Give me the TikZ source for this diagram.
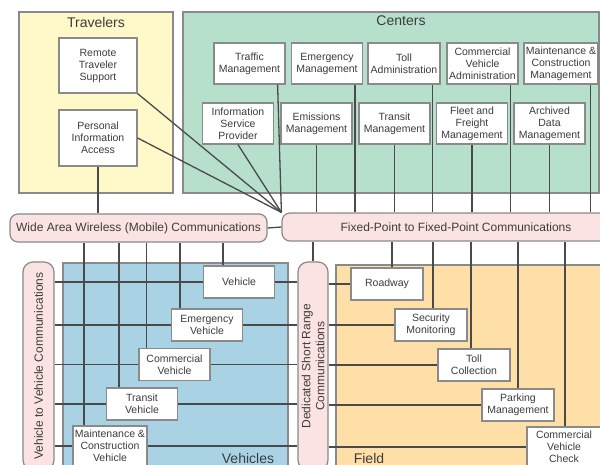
\documentclass[tikz,border=0pt]{standalone}
\usepackage{fontspec}
\setmainfont{Liberation Sans}
\definecolor{travel}{HTML}{FFF8C8}
\definecolor{center}{HTML}{B6E0CC}
\definecolor{vehic}{HTML}{A9D3E5}
\definecolor{fieldc}{HTML}{FEDFA8}
\definecolor{barpink}{HTML}{FCE3E3}
\definecolor{frame}{HTML}{8A8A8A}
\definecolor{wire}{HTML}{4A4A4A}
\definecolor{ink}{HTML}{3C3C3C}
\newcommand\cellfont{\fontsize{10.5}{12}\selectfont}
\newcommand\barfont{\fontsize{12}{14}\selectfont}
\newcommand\regionfont{\fontsize{14}{16}\selectfont}
\begin{document}
\begin{tikzpicture}[x=1pt,y=-1pt,
    region/.style={draw=frame,line width=1.2pt},
    heading/.style={font=\regionfont,text=ink},
    box/.style={draw=frame,fill=white,line width=1.2pt,inner sep=1pt,align=center,
      minimum width=71pt,minimum height=41pt,font=\cellfont,text=ink},
    unit/.style={box,minimum height=32pt},
    bar/.style={draw=frame,fill=barpink,line width=1.2pt,rounded corners=8pt,
      inner sep=1pt,font=\barfont,text=ink,align=center,minimum height=28pt},
    vbar/.style={bar,rotate=90,rounded corners=10pt,minimum width=208pt,minimum height=31pt},
    link/.style={draw=wire,line width=1.3pt}]
\clip (0,0) rectangle (600,465);
\fill[white] (0,0) rectangle (600,465);

\draw[region,fill=travel] (19,12) rectangle (173,193);
\draw[region,fill=center] (183,12) rectangle (599,193);
\draw[region,fill=vehic] (63,263) rectangle (288,475);
\draw[region,fill=fieldc] (336,265) rectangle (610,475);
\node[heading] (travtitle) at (96,22) {Travelers};
\node[heading] (centtitle) at (401,21) {Centers};
\node[heading] (vehtitle) at (248,458) {Vehicles};
\node[heading] (fieldtitle) at (369,458) {Field};

\node[box,minimum width=78pt,minimum height=55pt] (remote) at (98,65.5) {Remote\\Traveler\\Support};
\node[box,minimum width=78pt,minimum height=56pt] (personal) at (98,138) {Personal\\Information\\Access};

\node[box] (traffic) at (249.5,63.5) {Traffic\\Management};
\node[box] (emergency) at (327,63.5) {Emergency\\Management};
\node[box,minimum width=72pt] (tolladmin) at (404,63.5) {Toll\\Administration};
\node[box] (cvadmin) at (482.5,63.5) {Commercial\\Vehicle\\Administration};
\node[box,minimum width=74pt] (mcmgmt) at (561,63.5) {Maintenance \&\\Construction\\Management};
\node[box] (isp) at (238,123.5) {Information\\Service\\Provider};
\node[box] (emissions) at (316.5,123.5) {Emissions\\Management};
\node[box] (transitmgmt) at (394.5,123.5) {Transit\\Management};
\node[box] (fleet) at (472,123.5) {Fleet and\\Freight\\Management};
\node[box] (archived) at (549.5,123.5) {Archived\\Data\\Management};

\node[bar,minimum width=257pt] (wide) at (138.5,228) {Wide Area Wireless (Mobile) Communications};
\node[bar,minimum width=348pt] (fixed) at (456,227) {Fixed-Point to Fixed-Point Communications};
\node[vbar] (v2v) at (38.5,366) {Vehicle to Vehicle Communications};
\node[vbar,minimum height=30pt] (dsrc) at (313,366) {Dedicated Short Range\\Communications};

\node[unit] (veh) at (239,282) {Vehicle};
\node[unit] (emveh) at (207,325) {Emergency\\Vehicle};
\node[unit] (comveh) at (174.5,364.5) {Commercial\\Vehicle};
\node[unit] (trveh) at (142,404) {Transit\\Vehicle};
\node[unit,minimum width=74pt,minimum height=40pt] (mcveh) at (110,446) {Maintenance \&\\Construction\\Vehicle};

\node[unit,minimum width=72pt] (road) at (387,284) {Roadway};
\node[unit,minimum width=72pt] (secmon) at (431,325) {Security\\Monitoring};
\node[unit,minimum width=72pt] (tollcol) at (474,365) {Toll\\Collection};
\node[unit,minimum width=72pt] (parking) at (518,405) {Parking\\Management};
\node[unit,minimum width=74pt,minimum height=40pt] (cvcheck) at (564,447) {Commercial\\Vehicle\\Check};

\draw[link] (remote.south east) -- (fixed.north west);
\draw[link] (personal.east) -- (fixed.north west);
\draw[link] (isp.south) -- (fixed.north west);
\draw[link] ([xshift=-8pt]traffic.south east) -- (fixed.north west);
\draw[link] (personal.south) -- (personal.south |- wide.north);
\draw[link] (wide.east) -- (fixed.west);
\foreach \n in {emergency,tolladmin,cvadmin,mcmgmt}{
  \path ([xshift=-8pt]\n.south east) coordinate (\n-out);
  \draw[link] (\n-out) -- (\n-out |- fixed.north);
}
\foreach \n in {emissions,transitmgmt,fleet,archived}
  \draw[link] (\n.south) -- (\n.south |- fixed.north);

\foreach \n/\dx in {veh/-16,emveh/-27,comveh/-28,trveh/-23,mcveh/-26}{
  \path ([xshift=\dx pt]\n.north) coordinate (\n-in);
  \draw[link] (\n-in) -- (\n-in |- wide.south);
  \draw[link] (v2v.south |- \n) -- (\n.west);
  \draw[link] (\n.east) -- (dsrc.north |- \n);
}
\draw[link] (dsrc.east) -- (dsrc.east |- fixed.south);
\foreach \n/\dx in {road/5,secmon/2,tollcol/-3,parking/0,cvcheck/1}{
  \path ([xshift=\dx pt]\n.north) coordinate (\n-in);
  \draw[link] (\n-in) -- (\n-in |- fixed.south);
  \draw[link] (dsrc.south |- \n) -- (\n.west);
}
\end{tikzpicture}
\end{document}
